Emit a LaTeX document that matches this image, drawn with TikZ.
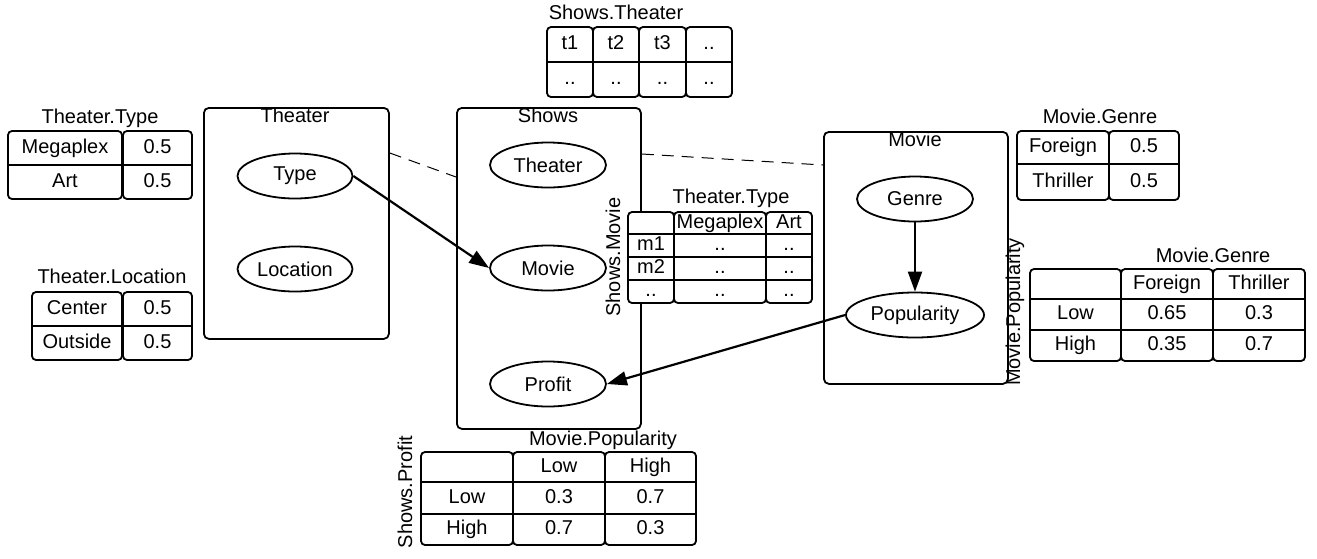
\documentclass[tikz,border=0pt]{standalone}
\usepackage{fontspec}
\setmainfont{Liberation Sans}
\usetikzlibrary{arrows.meta,shapes.geometric,calc}
\begin{document}
\begin{tikzpicture}[x=1pt,y=-1pt,
  box/.style={draw,line width=1.8pt,rounded corners=5pt,minimum width=#1,inner sep=0pt,anchor=north west},
  col/.style={draw,line width=1.8pt,rounded corners=4pt,fill=white},
  rl/.style={draw,line width=1.8pt},
  var/.style={draw,ellipse,line width=1.8pt,minimum width=#1,minimum height=45pt,inner sep=0pt,font=\fontsize{20}{24}\selectfont},
  var/.default=115pt,
  txt/.style={font=\fontsize{20}{24}\selectfont,inner sep=0pt,text height=14.3pt,text depth=4.2pt},
  rtxt/.style={txt,rotate=90},
  dep/.style={line width=2.2pt,-{Triangle[length=20pt,width=14pt]}},
  link/.style={line width=1pt,dash pattern=on 12pt off 8pt}
]
\useasboundingbox (0,0) rectangle (1317,558);

% ---------- plates ----------
\node[box=185pt,minimum height=231pt] (theaterbox) at (203,107) {};
\node[box=184pt,minimum height=321pt] (showsbox) at (456,107) {};
\node[box=184pt,minimum height=252pt] (moviebox) at (823,131) {};
\node[txt] (theatert) at (295,117) {Theater};
\node[txt] (showst) at (548,117) {Shows};
\node[txt] (moviet) at (915,141) {Movie};

% ---------- variables ----------
\node[var] (typev) at (295,176) {Type};
\node[var] (locv) at (295,269) {Location};
\node[var=116pt] (sthv) at (548,165) {Theater};
\node[var=116pt] (smov) at (548,268) {Movie};
\node[var=116pt] (profv) at (548,384) {Profit};
\node[var=116pt] (genv) at (915,199) {Genre};
\node[var=138pt] (popv) at (915,315) {Popularity};

% ---------- dashed links ----------
\draw[link] ($(theaterbox.north east)+(0,46)$) -- ($(showsbox.north west)+(0,70)$);
\draw[link] ($(showsbox.north east)+(0,47)$) -- ($(moviebox.north west)+(0,34)$);

% ---------- dependencies ----------
\draw[dep] (typev.east) -- (smov.west);
\draw[dep] (genv.south) -- (popv.north);
\draw[dep] (popv.west) -- (profv.east);

% ---------- Theater.Type ----------
\node[txt] (ttT) at (100,118) {Theater.Type};
\draw[col] (8,131) rectangle (122,199);
\draw[col] (123,131) rectangle (192,199);
\draw[rl] (8,165) -- (192,165);
\node[txt] (tt1) at (65,148) {Megaplex};
\node[txt] (tt2) at (157.5,148) {0.5};
\node[txt] (tt3) at (65,182) {Art};
\node[txt] (tt4) at (157.5,182) {0.5};

% ---------- Theater.Location ----------
\node[txt] (tlT) at (112,278) {Theater.Location};
\draw[col] (32,292) rectangle (122,360);
\draw[col] (123,292) rectangle (192,360);
\draw[rl] (32,326) -- (192,326);
\node[txt] (tl1) at (77,309) {Center};
\node[txt] (tl2) at (157.5,309) {0.5};
\node[txt] (tl3) at (77,343) {Outside};
\node[txt] (tl4) at (157.5,343) {0.5};

% ---------- Shows.Theater ----------
\node[txt] (stT) at (616,14) {Shows.Theater};
\draw[col] (547,27) rectangle (593,97);
\draw[col] (593,27) rectangle (639,97);
\draw[col] (639,27) rectangle (686,97);
\draw[col] (686,27) rectangle (732,97);
\draw[rl] (547,62) -- (732,62);
\node[txt] (st1) at (570,44.5) {t1};
\node[txt] (st2) at (616,44.5) {t2};
\node[txt] (st3) at (662.5,44.5) {t3};
\node[txt] (st4) at (709,44.5) {..};
\node[txt] (st5) at (570,79.5) {..};
\node[txt] (st6) at (616,79.5) {..};
\node[txt] (st7) at (662.5,79.5) {..};
\node[txt] (st8) at (709,79.5) {..};

% ---------- Shows.Movie ----------
\node[txt] (smT) at (731,198) {Theater.Type};
\node[rtxt] (smR) at (615,257) {Shows.Movie};
\draw[col] (628,212) rectangle (674,303);
\draw[col] (674,212) rectangle (766,303);
\draw[col] (766,212) rectangle (812,303);
\draw[rl] (628,234) -- (812,234);
\draw[rl] (628,257) -- (812,257);
\draw[rl] (628,280) -- (812,280);
\node[txt] (sm1) at (720,223) {Megaplex};
\node[txt] (sm2) at (789,223) {Art};
\node[txt] (sm3) at (651,245.5) {m1};
\node[txt] (sm4) at (720,245.5) {..};
\node[txt] (sm5) at (789,245.5) {..};
\node[txt] (sm6) at (651,268.5) {m2};
\node[txt] (sm7) at (720,268.5) {..};
\node[txt] (sm8) at (789,268.5) {..};
\node[txt] (sm9) at (651,291.5) {..};
\node[txt] (sm10) at (720,291.5) {..};
\node[txt] (sm11) at (789,291.5) {..};

% ---------- Movie.Genre ----------
\node[txt] (mgT) at (1100,118) {Movie.Genre};
\draw[col] (1017,131) rectangle (1109,200);
\draw[col] (1109,131) rectangle (1179,200);
\draw[rl] (1017,164) -- (1179,164);
\node[txt] (mg1) at (1063,147.5) {Foreign};
\node[txt] (mg2) at (1144,147.5) {0.5};
\node[txt] (mg3) at (1063,182) {Thriller};
\node[txt] (mg4) at (1144,182) {0.5};

% ---------- Movie.Popularity ----------
\node[txt] (mpT) at (1213,257) {Movie.Genre};
\node[rtxt] (mpR) at (1015,312) {Movie.Popularity};
\draw[col] (1030,269) rectangle (1121,361);
\draw[col] (1121,269) rectangle (1213,361);
\draw[col] (1213,269) rectangle (1305,361);
\draw[rl] (1030,299) -- (1305,299);
\draw[rl] (1030,330) -- (1305,330);
\node[txt] (mp1) at (1167,284) {Foreign};
\node[txt] (mp2) at (1259,284) {Thriller};
\node[txt] (mp3) at (1075.5,314.5) {Low};
\node[txt] (mp4) at (1167,314.5) {0.65};
\node[txt] (mp5) at (1259,314.5) {0.3};
\node[txt] (mp6) at (1075.5,345.5) {High};
\node[txt] (mp7) at (1167,345.5) {0.35};
\node[txt] (mp8) at (1259,345.5) {0.7};

% ---------- Shows.Profit ----------
\node[txt] (spT) at (603,440) {Movie.Popularity};
\node[rtxt] (spR) at (407,492) {Shows.Profit};
\draw[col] (421,452) rectangle (513,545);
\draw[col] (513,452) rectangle (605,545);
\draw[col] (605,452) rectangle (696,545);
\draw[rl] (421,482) -- (696,482);
\draw[rl] (421,514) -- (696,514);
\node[txt] (sp1) at (559,467) {Low};
\node[txt] (sp2) at (650.5,467) {High};
\node[txt] (sp3) at (467,498) {Low};
\node[txt] (sp4) at (559,498) {0.3};
\node[txt] (sp5) at (650.5,498) {0.7};
\node[txt] (sp6) at (467,529.5) {High};
\node[txt] (sp7) at (559,529.5) {0.7};
\node[txt] (sp8) at (650.5,529.5) {0.3};
\end{tikzpicture}
\end{document}
